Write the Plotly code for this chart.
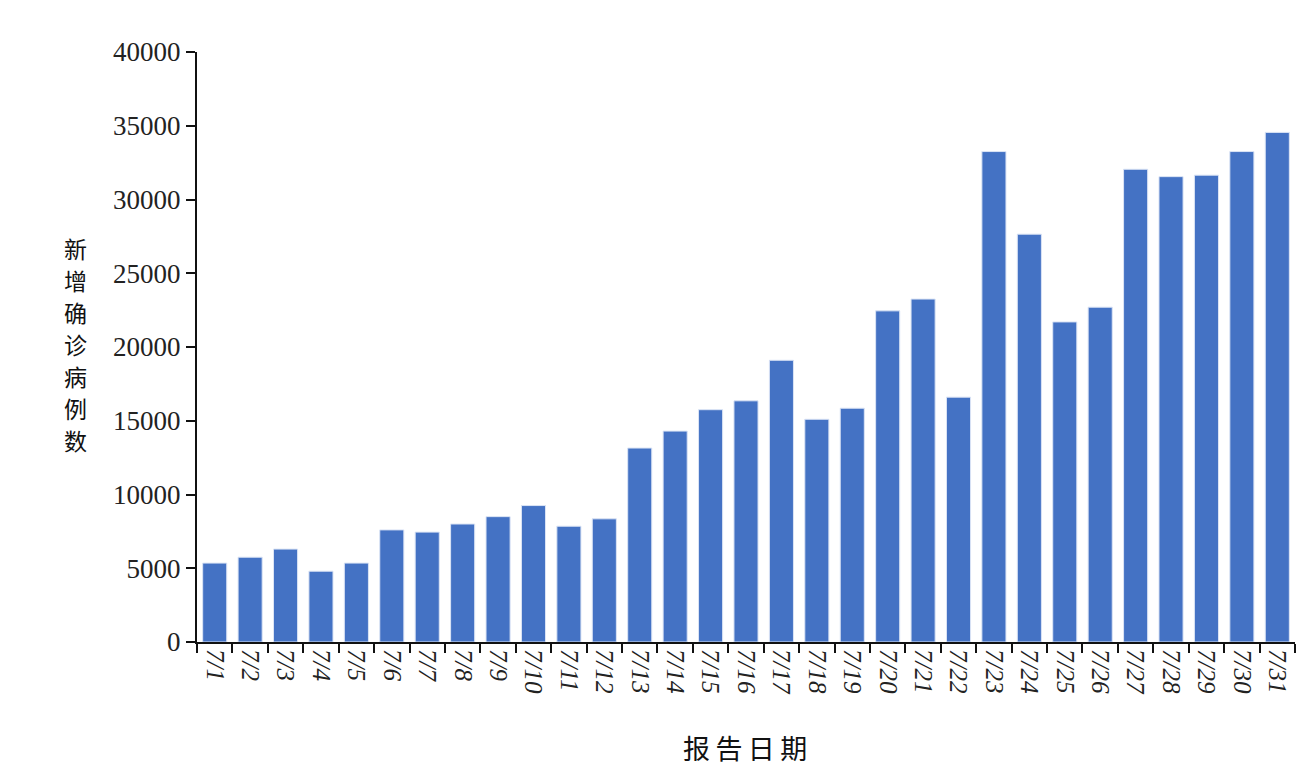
import plotly.graph_objects as go

# 报告日期 (7月) and 新增确诊病例数
dates = ["7/" + str(d) for d in range(1, 32)]
cases = [5350, 5750, 6300, 4800, 5350, 7600, 7450, 8000, 8500, 9250,
         7850, 8350, 13150, 14300, 15750, 16350, 19100, 15100, 15850, 22450,
         23250, 16600, 33250, 27650, 21700, 22700, 32050, 31550, 31650, 33250,
         34550]

y_ticks = [0, 5000, 10000, 15000, 20000, 25000, 30000, 35000, 40000]
y_title = "新增确诊病例数"
x_title = "报告日期"

serif = "Liberation Serif, Times New Roman, serif"
cjk = "Noto Sans CJK SC, sans-serif"

# page has an 8px body margin, so the figure is a bit smaller than the window
W, H = 1294, 760
L, R, T, B = 189, 7, 44, 126
plot_w = W - L - R
plot_h = H - T - B

fig = go.Figure()
fig.add_trace(go.Bar(
    x=dates,
    y=cases,
    marker=dict(color="#4472C4", line=dict(color="#dbe4f5", width=1)),
))

fig.update_layout(
    width=W,
    height=H,
    margin=dict(l=L, r=R, t=T, b=B),
    plot_bgcolor="white",
    paper_bgcolor="white",
    bargap=0.32,
    showlegend=False,
    font=dict(family=serif, color="#222222"),
)

fig.update_xaxes(
    type="category",
    showline=True,
    linecolor="#111111",
    linewidth=2,
    ticks="outside",
    tickson="boundaries",
    ticklen=9,
    tickwidth=2,
    tickcolor="#111111",
    tickangle=90,
    tickfont=dict(family=serif, size=25, color="#222222", style="italic"),
    showgrid=False,
)

fig.update_yaxes(
    range=[0, 40000],
    tickvals=y_ticks,
    ticktext=[str(v) for v in y_ticks],
    showline=True,
    linecolor="#111111",
    linewidth=2,
    ticks="outside",
    ticklen=9,
    tickwidth=2,
    tickcolor="#111111",
    tickfont=dict(family=serif, size=27, color="#222222"),
    showgrid=False,
    zeroline=False,
)

# vertical y title, one character per annotation
for i, ch in enumerate(y_title):
    py = 240 + 32 * i
    fig.add_annotation(
        text=ch,
        xref="paper", yref="paper",
        x=(67 - L) / plot_w, y=1 - (py - T) / plot_h,
        xanchor="center", yanchor="middle",
        showarrow=False,
        borderpad=0,
        font=dict(family=cjk, size=23, color="#111111"),
    )

fig.add_annotation(
    text="\u2009".join(list(x_title)),
    xref="paper", yref="paper",
    x=(737 - L) / plot_w, y=1 - (739 - T) / plot_h,
    xanchor="center", yanchor="middle",
    showarrow=False,
    font=dict(family=cjk, size=27, color="#111111"),
)

fig.write_html("out.html")
